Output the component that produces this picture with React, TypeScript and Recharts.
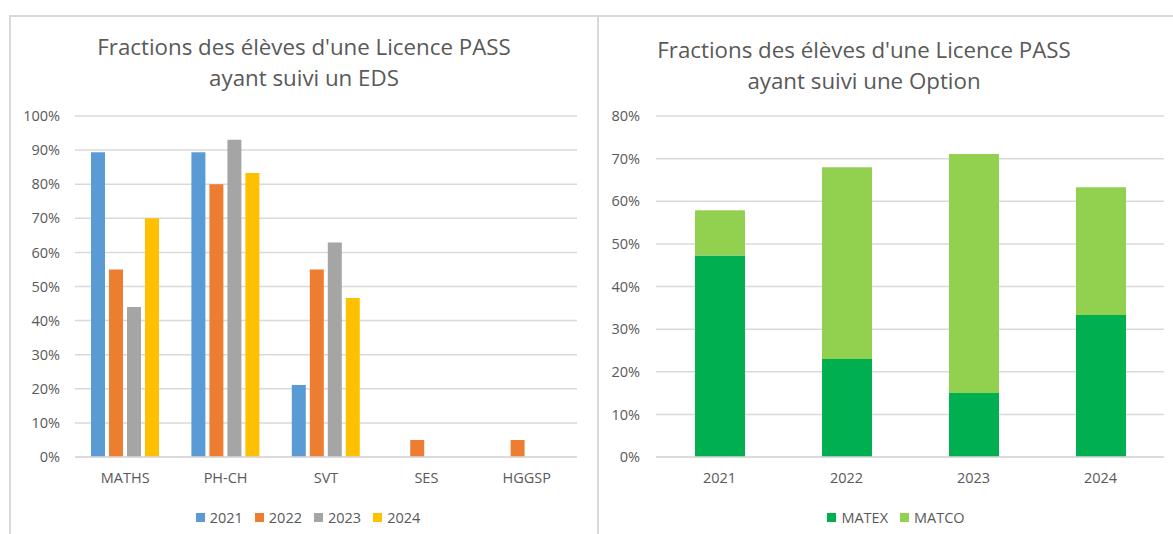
import React from "react";
import { BarChart, Bar, XAxis, YAxis, CartesianGrid, Legend } from "recharts";

// left chart: share of PASS students per EDS specialty
const subjects = ["MATHS", "PH-CH", "SVT", "SES", "HGGSP"];
const eds2021 = [89.4, 89.4, 21.1, 0, 0];
const eds2022 = [55, 80, 55, 5, 5];
const eds2023 = [44, 93, 62.9, 0, 0];
const eds2024 = [70, 83.3, 46.6, 0, 0];
const edsYears = ["2021", "2022", "2023", "2024"];
const edsColors = ["#5B9BD5", "#ED7D31", "#A5A5A5", "#FFC000"];
const edsTicks = [0, 10, 20, 30, 40, 50, 60, 70, 80, 90, 100];

// right chart: options
const optionYears = ["2021", "2022", "2023", "2024"];
const matex = [47.3, 23, 15, 33.3];
const matco = [10.6, 45, 56.1, 30];
const optionTicks = [0, 10, 20, 30, 40, 50, 60, 70, 80];

const edsData = subjects.map((s, i) => ({
  name: s,
  "2021": eds2021[i],
  "2022": eds2022[i],
  "2023": eds2023[i],
  "2024": eds2024[i],
}));

const optionData = optionYears.map((y, i) => ({
  name: y,
  MATEX: matex[i],
  MATCO: matco[i],
}));

const FONT = "'Open Sans', sans-serif";
const GREY = "#595959";
const LINE = "#d9d9d9";
const tickStyle = { fill: GREY, fontSize: 14.5, fontFamily: FONT };

const pct = (v: number) => `${v}%`;

const LegendBox = ({ items }: { items: { label: string; color: string }[] }) => (
  <div
    style={{
      height: 18,
      display: "flex",
      justifyContent: "center",
      alignItems: "center",
      fontFamily: FONT,
      fontSize: 14.5,
      color: GREY,
    }}
  >
    {items.map((it) => (
      <span key={it.label} style={{ display: "flex", alignItems: "center", margin: "0 6px" }}>
        <span style={{ width: 9, height: 9, background: it.color, marginRight: 5 }} />
        {it.label}
      </span>
    ))}
  </div>
);

const Title = ({ lines, center, top }: { lines: string[]; center: number; top: number }) => (
  <div
    style={{
      position: "absolute",
      left: center - 300,
      width: 600,
      top,
      textAlign: "center",
      fontFamily: FONT,
      fontSize: 22.3,
      lineHeight: "31px",
      color: GREY,
    }}
  >
    {lines.map((l) => (
      <div key={l}>{l}</div>
    ))}
  </div>
);

export default function App() {
  return (
    <div
      style={{
        position: "absolute",
        left: 0,
        top: 0,
        width: 1173,
        height: 534,
        background: "#fff",
        overflow: "hidden",
      }}
    >
      {/* frame */}
      <div style={{ position: "absolute", left: 9, top: 15, width: 1164, height: 2, background: LINE }} />
      <div style={{ position: "absolute", left: 9, top: 15, width: 2, height: 519, background: LINE }} />
      <div style={{ position: "absolute", left: 597, top: 15, width: 2, height: 519, background: LINE }} />

      <Title lines={["Fractions des élèves d'une Licence PASS", "ayant suivi un EDS"]} center={304} top={31} />
      <Title lines={["Fractions des élèves d'une Licence PASS", "ayant suivi une Option"]} center={864} top={34} />

      <div style={{ position: "absolute", left: 0, top: 0 }}>
        <BarChart
          width={598}
          height={534}
          data={edsData}
          margin={{ top: 116, right: 21, bottom: 8, left: 10 }}
          barSize={14}
          barGap={4}
        >
          <CartesianGrid vertical={false} stroke={LINE} strokeWidth={1.5} />
          <XAxis
            dataKey="name"
            height={51}
            tickLine={false}
            tickSize={0}
            tickMargin={16}
            axisLine={{ stroke: LINE, strokeWidth: 1.5 }}
            tick={tickStyle}
          />
          <YAxis
            width={65}
            domain={[0, 100]}
            ticks={edsTicks}
            tickFormatter={pct}
            tickLine={false}
            tickSize={0}
            tickMargin={15}
            axisLine={false}
            tick={tickStyle}
          />
          <Legend
            verticalAlign="bottom"
            wrapperStyle={{ left: 24, width: 568 }}
            content={() => (
              <LegendBox items={edsYears.map((y, i) => ({ label: y, color: edsColors[i] }))} />
            )}
          />
          {edsYears.map((y, i) => (
            <Bar key={y} dataKey={y} fill={edsColors[i]} isAnimationActive={false} />
          ))}
        </BarChart>
      </div>

      <div style={{ position: "absolute", left: 598, top: 0 }}>
        <BarChart
          width={575}
          height={534}
          data={optionData}
          margin={{ top: 116, right: 9, bottom: 8, left: 8 }}
          barSize={50}
        >
          <CartesianGrid vertical={false} stroke={LINE} strokeWidth={1.5} />
          <XAxis
            dataKey="name"
            height={51}
            tickLine={false}
            tickSize={0}
            tickMargin={16}
            axisLine={{ stroke: LINE, strokeWidth: 1.5 }}
            tick={tickStyle}
          />
          <YAxis
            width={50}
            domain={[0, 80]}
            ticks={optionTicks}
            tickFormatter={pct}
            tickLine={false}
            tickSize={0}
            tickMargin={16}
            axisLine={false}
            tick={tickStyle}
          />
          <Legend
            verticalAlign="bottom"
            wrapperStyle={{ left: 30, width: 536 }}
            content={() => (
              <LegendBox
                items={[
                  { label: "MATEX", color: "#00B050" },
                  { label: "MATCO", color: "#92D050" },
                ]}
              />
            )}
          />
          <Bar dataKey="MATEX" stackId="a" fill="#00B050" isAnimationActive={false} />
          <Bar dataKey="MATCO" stackId="a" fill="#92D050" isAnimationActive={false} />
        </BarChart>
      </div>
    </div>
  );
}
